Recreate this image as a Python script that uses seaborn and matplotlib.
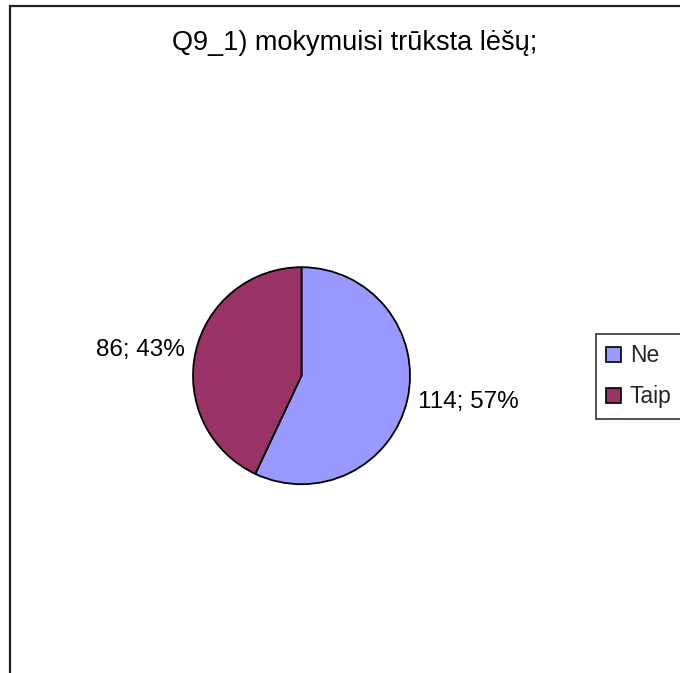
import matplotlib
matplotlib.use("Agg")
import matplotlib.pyplot as plt
import seaborn as sns
from matplotlib.patches import Rectangle

# data
categories = ["Ne", "Taip"]
counts = [114, 86]
percents = [57, 43]
colors = ["#9999FF", "#993366"]
title = "Q9_1) mokymuisi trūksta lėšų;"

sns.set_theme(style="white")
plt.rcParams['font.family'] = ['Liberation Sans', 'DejaVu Sans']

W, H = 680, 673
fig = plt.figure(figsize=(W / 100, H / 100), dpi=100)
fig.patch.set_facecolor("white")

# chart area border (cut off on right and bottom like the original)
fig.patches.append(Rectangle((10 / W, -0.1), 1.2, 1.1 - 6.5 / H,
                             transform=fig.transFigure, fill=False,
                             edgecolor="#222222", linewidth=1.6))

# pie axes: center ~(301.5, 375.7) px, radius ~108.5 px
cx, cy, r = 301.5, 375.7, 108.5
ax = fig.add_axes([(cx - r) / W, (H - cy - r) / H, 2 * r / W, 2 * r / H])

labels = [f"{c}; {p}%" for c, p in zip(counts, percents)]
wedges, texts = ax.pie(counts, colors=colors, startangle=90, counterclock=False,
                       labels=labels, labeldistance=1.1,
                       wedgeprops=dict(edgecolor="black", linewidth=1.3),
                       textprops=dict(fontsize=17.5, color="black"))
ax.set_xlim(-1, 1)
ax.set_ylim(-1, 1)
ax.set_aspect("equal")

fig.text(355 / W, 1 - 43 / H, title, ha="center", va="center",
         fontsize=19.5, color="black")

leg = fig.legend(wedges, categories, loc="upper left",
                 bbox_to_anchor=(596 / W, 1 - 334 / H), borderaxespad=0,
                 fontsize=16.5, frameon=True, fancybox=False,
                 edgecolor="black", handlelength=0.62, handleheight=0.62,
                 handletextpad=0.4, labelspacing=0.78, borderpad=0.45)
leg.get_frame().set_linewidth(1.2)
for h in leg.legend_handles:
    h.set_edgecolor("black")
    h.set_linewidth(1.2)

fig.savefig("out.png", dpi=100, facecolor="white")
